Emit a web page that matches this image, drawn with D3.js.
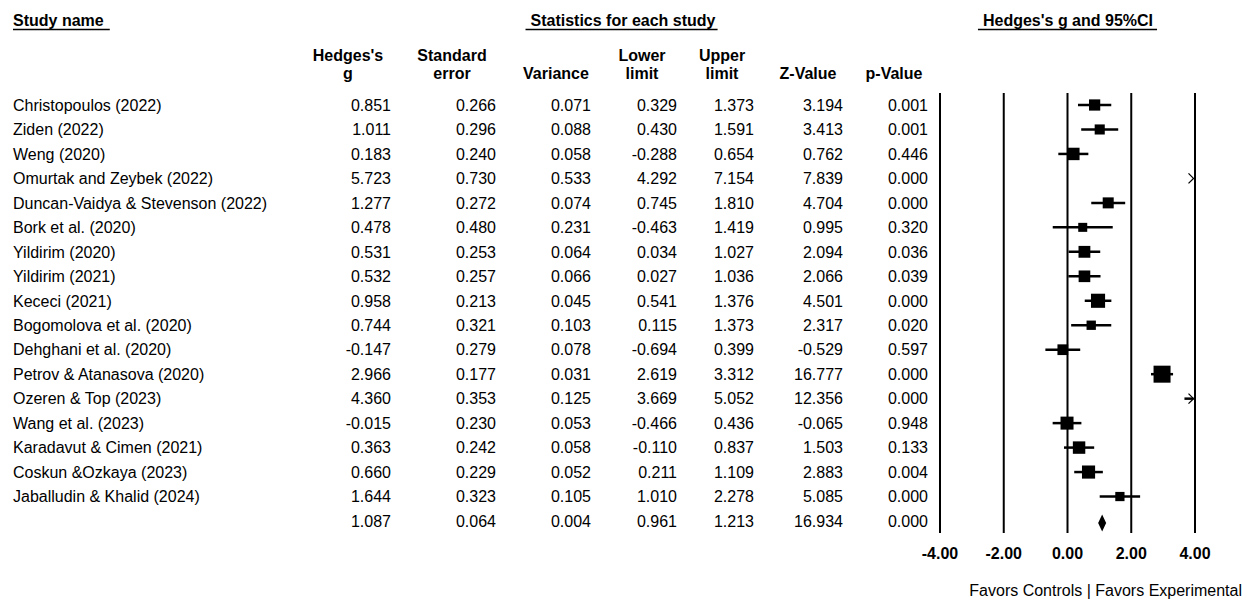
<!DOCTYPE html>
<html>
<head>
<meta charset="utf-8">
<script src="https://cdn.jsdelivr.net/npm/d3@7"></script>
<style>
    body { margin: 0; background: #fff; }
    text { font-family: "Liberation Sans", Arial, sans-serif; fill: #000; }
    .head { font-weight: bold; font-size: 16px; }
    .cell { font-size: 16px; }
    .tick-label { font-weight: bold; font-size: 16px; }
</style>
</head>
<body>
<div id="forest"></div>
<script>
// Study data
var studies = ["Christopoulos (2022)", "Ziden (2022)", "Weng (2020)", "Omurtak and Zeybek (2022)",
    "Duncan-Vaidya & Stevenson (2022)", "Bork et al. (2020)", "Yildirim (2020)", "Yildirim (2021)",
    "Kececi (2021)", "Bogomolova et al. (2020)", "Dehghani et al. (2020)", "Petrov & Atanasova (2020)",
    "Ozeren & Top (2023)", "Wang et al. (2023)", "Karadavut & Cimen (2021)", "Coskun &Ozkaya (2023)",
    "Jaballudin & Khalid (2024)"];
var hedgesG  = [0.851, 1.011, 0.183, 5.723, 1.277, 0.478, 0.531, 0.532, 0.958, 0.744, -0.147, 2.966, 4.360, -0.015, 0.363, 0.660, 1.644];
var stdError = [0.266, 0.296, 0.240, 0.730, 0.272, 0.480, 0.253, 0.257, 0.213, 0.321, 0.279, 0.177, 0.353, 0.230, 0.242, 0.229, 0.323];
var variance = [0.071, 0.088, 0.058, 0.533, 0.074, 0.231, 0.064, 0.066, 0.045, 0.103, 0.078, 0.031, 0.125, 0.053, 0.058, 0.052, 0.105];
var lowerLim = [0.329, 0.430, -0.288, 4.292, 0.745, -0.463, 0.034, 0.027, 0.541, 0.115, -0.694, 2.619, 3.669, -0.466, -0.110, 0.211, 1.010];
var upperLim = [1.373, 1.591, 0.654, 7.154, 1.810, 1.419, 1.027, 1.036, 1.376, 1.373, 0.399, 3.312, 5.052, 0.436, 0.837, 1.109, 2.278];
var zValue   = [3.194, 3.413, 0.762, 7.839, 4.704, 0.995, 2.094, 2.066, 4.501, 2.317, -0.529, 16.777, 12.356, -0.065, 1.503, 2.883, 5.085];
var pValue   = [0.001, 0.001, 0.446, 0.000, 0.000, 0.320, 0.036, 0.039, 0.000, 0.020, 0.597, 0.000, 0.000, 0.948, 0.133, 0.004, 0.000];

// Pooled (fixed effect) row
var summary = { g: 1.087, se: 0.064, v: 0.004, lo: 0.961, hi: 1.213, z: 16.934, p: 0.000 };

var axisTicks = [-4, -2, 0, 2, 4];
var columnHeads = [["Hedges's", "g"], ["Standard", "error"], ["", "Variance"], ["Lower", "limit"],
    ["Upper", "limit"], ["", "Z-Value"], ["", "p-Value"]];

// plain hyphen minus like the original
var loc = d3.formatLocale({ decimal: ".", thousands: ",", grouping: [3], currency: ["", ""], minus: "-" });
var f3 = loc.format(".3f"),
    f2 = loc.format(".2f");

var width = 1255, height = 602;

var svg = d3.select("#forest").append("svg")
    .attr("width", width)
    .attr("height", height);

// column layout: header centre and right edge of numbers
var colCenter = [348, 452, 556, 642, 722, 808, 894];
var colRight  = [391, 496, 591, 677, 754, 843, 928];

var nRows = studies.length + 1;
var y = d3.scalePoint()
    .domain(d3.range(nRows))
    .range([105, 521]);

var x = d3.scaleLinear()
    .domain([-4, 4])
    .range([940, 1195]);

// size of square from inverse variance weight
var weights = variance.map(function(v){ return 1 / v; });
var size = d3.scaleSqrt()
    .domain([0, d3.max(weights)])
    .range([0, 17]);

// Group titles (underlined)
function underlined(txt, xPos, anchor, padL, padR) {
    var t = svg.append("text")
        .attr("class", "head")
        .attr("x", xPos)
        .attr("y", 26)
        .attr("text-anchor", anchor)
        .text(txt);
    var bb = t.node().getBBox();
    svg.append("line")
        .attr("x1", bb.x - padL)
        .attr("x2", bb.x + bb.width + padR)
        .attr("y1", 29.5)
        .attr("y2", 29.5)
        .attr("stroke", "#000")
        .attr("stroke-width", 1.5);
}
underlined("Study name", 13, "start", 0, 6);
underlined("Statistics for each study", 623, "middle", 5, 2);
underlined("Hedges's g and 95%CI", 1068, "middle", 5, 4);

// Column headers
columnHeads.forEach(function(h, i){
    svg.append("text").attr("class", "head")
        .attr("x", colCenter[i]).attr("y", 61)
        .attr("text-anchor", "middle").text(h[0]);
    svg.append("text").attr("class", "head")
        .attr("x", colCenter[i]).attr("y", 79)
        .attr("text-anchor", "middle").text(h[1]);
});

// Table rows
var rows = studies.map(function(s, i){
    return { name: s, vals: [hedgesG[i], stdError[i], variance[i], lowerLim[i], upperLim[i], zValue[i], pValue[i]] };
});
rows.push({ name: "", vals: [summary.g, summary.se, summary.v, summary.lo, summary.hi, summary.z, summary.p] });

var rowG = svg.selectAll(".row")
    .data(rows)
    .enter().append("g")
    .attr("class", "row")
    .attr("transform", function(d, i){ return "translate(0," + y(i) + ")"; });

rowG.append("text")
    .attr("class", "cell")
    .attr("x", 13)
    .attr("dy", "0.36em")
    .text(function(d){ return d.name; });

rowG.selectAll(".num")
    .data(function(d){ return d.vals; })
    .enter().append("text")
    .attr("class", "cell num")
    .attr("x", function(d, j){ return colRight[j]; })
    .attr("dy", "0.36em")
    .attr("text-anchor", "end")
    .text(function(d){ return f3(d); });

// Vertical reference lines
svg.selectAll(".vline")
    .data(axisTicks)
    .enter().append("line")
    .attr("class", "vline")
    .attr("x1", function(d){ return x(d); })
    .attr("x2", function(d){ return x(d); })
    .attr("y1", 93)
    .attr("y2", 533)
    .attr("stroke", "#000")
    .attr("stroke-width", 2);

svg.selectAll(".tick-label")
    .data(axisTicks)
    .enter().append("text")
    .attr("class", "tick-label")
    .attr("x", function(d){ return x(d); })
    .attr("y", 559)
    .attr("text-anchor", "middle")
    .text(function(d){ return f2(d); });

// CI lines, clipped at the axis end with an arrow
var xMax = x.domain()[1];
studies.forEach(function(s, i){
    var yy = y(i);
    var lo = Math.max(lowerLim[i], x.domain()[0]),
        hi = Math.min(upperLim[i], xMax);
    if (lo < hi) {
        svg.append("line")
            .attr("x1", x(lo)).attr("x2", x(hi) - (upperLim[i] > xMax ? 1.5 : 0))
            .attr("y1", yy).attr("y2", yy)
            .attr("stroke", "#000")
            .attr("stroke-width", 2.5);
    }
    if (upperLim[i] > xMax) {
        var tip = x(xMax) - 1.5;
        svg.append("path")
            .attr("d", "M" + (tip - 5) + "," + (yy - 5) + "L" + tip + "," + yy + "L" + (tip - 5) + "," + (yy + 5))
            .attr("fill", "none")
            .attr("stroke", "#000")
            .attr("stroke-width", 1.3);
    }
    if (hedgesG[i] <= xMax) {
        var sz = Math.max(9, size(weights[i]));
        svg.append("rect")
            .attr("x", x(hedgesG[i]) - sz / 2)
            .attr("y", yy - sz / 2)
            .attr("width", sz)
            .attr("height", sz)
            .attr("fill", "#000");
    }
});

// Summary diamond
var ys = y(nRows - 1) + 2;
svg.append("path")
    .attr("d", "M" + x(summary.lo) + "," + ys +
        "L" + x(summary.g) + "," + (ys - 8.5) +
        "L" + x(summary.hi) + "," + ys +
        "L" + x(summary.g) + "," + (ys + 8.5) + "Z")
    .attr("fill", "#000");

svg.append("text")
    .attr("class", "cell")
    .attr("x", 1242)
    .attr("y", 596)
    .attr("text-anchor", "end")
    .text("Favors Controls | Favors Experimental");
</script>
</body>
</html>
